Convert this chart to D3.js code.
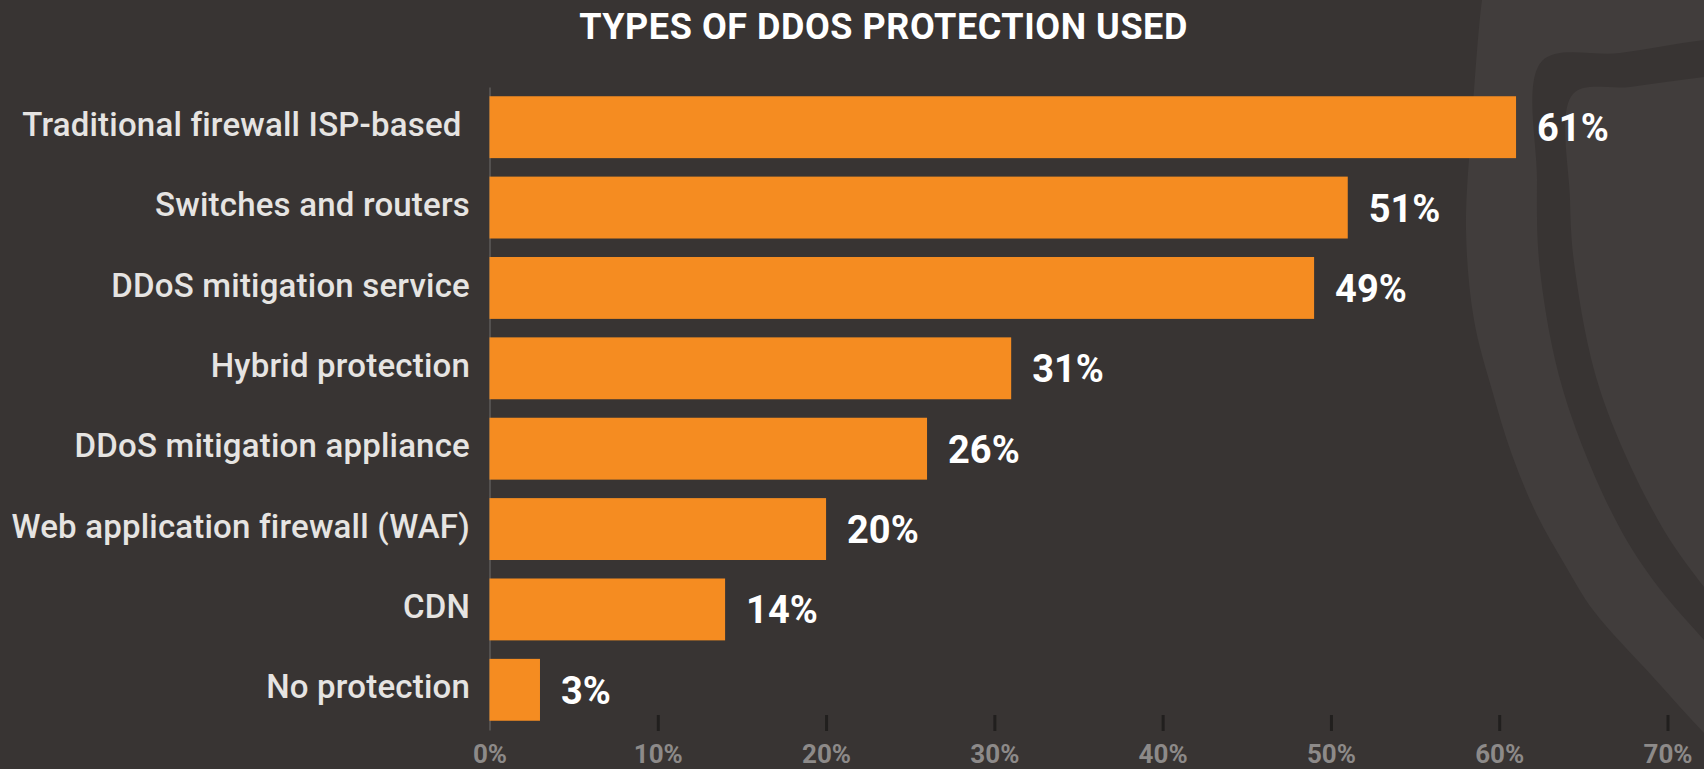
<!DOCTYPE html>
<html>
<head>
<meta charset="utf-8">
<script src="https://cdn.jsdelivr.net/npm/d3@7/dist/d3.min.js"></script>
<style>
  html, body { margin: 0; padding: 0; background: #383433; }
  svg { display: block; }
</style>
</head>
<body>
<svg id="chart" width="1704" height="769"></svg>
<script>
// Survey results: share of respondents using each type of DDoS protection
const categories = [
  "Traditional firewall ISP-based ",
  "Switches and routers",
  "DDoS mitigation service",
  "Hybrid protection",
  "DDoS mitigation appliance",
  "Web application firewall (WAF)",
  "CDN",
  "No protection"
];
const values = [61, 51, 49, 31, 26, 20, 14, 3];
const tickValues = [0, 10, 20, 30, 40, 50, 60, 70];
const titleText = "TYPES OF DDOS PROTECTION USED";

const W = 1704, H = 769;
const svg = d3.select("#chart");

const BG = "#383433", SHIELD = "#413d3c", BAR = "#f58c21";
const FONT = "Roboto, 'Liberation Sans', sans-serif";

svg.append("rect").attr("width", W).attr("height", H).attr("fill", BG);

// Decorative shield outline in the right-hand corner
const curve = d3.line().curve(d3.curveCatmullRom.alpha(0.5));
const shieldLayers = [
  { fill: SHIELD, pts: [[1800,-20],[1486,-20],[1482,0],[1472,120],[1466,230],[1474,320],[1492,390],[1512,455],[1537,515],[1565,565],[1593,610],[1653,677],[1704,733],[1745,775],[1800,800]] },
  { fill: BG, pts: [[1800,30],[1704,40],[1620,53],[1542,61],[1537,180],[1540,270],[1563,390],[1613,515],[1653,580],[1704,640],[1750,690],[1800,720]] },
  { fill: SHIELD, pts: [[1800,68],[1704,77],[1630,87],[1573,94],[1570,200],[1575,270],[1600,390],[1658,520],[1704,587],[1750,640],[1800,660]] }
];
shieldLayers.forEach(l => {
  svg.append("path").attr("d", curve(l.pts) + "L1800,800L1800,-20Z").attr("fill", l.fill);
});

// Title
svg.append("text")
  .attr("x", 883.5).attr("y", 39)
  .attr("text-anchor", "middle")
  .attr("font-family", FONT)
  .attr("font-weight", 700)
  .attr("font-size", 36)
  .attr("letter-spacing", 0.55)
  .attr("fill", "#ffffff")
  .text(titleText);

// Scales
const x = d3.scaleLinear().domain([0, 70]).range([489.5, 1667.5]);
const y = d3.scaleBand().domain(categories).range([87, 730])
  .paddingInner(0.23).paddingOuter(0.115);

// Category axis (its domain line is the vertical baseline)
const yAxis = svg.append("g")
  .attr("transform", `translate(${x(0)},0)`)
  .call(d3.axisLeft(y).tickSize(0).tickSizeOuter(0).tickPadding(19.5));
yAxis.select(".domain").attr("stroke", "#53504f").attr("stroke-width", 2);
yAxis.selectAll("text")
  .attr("font-family", FONT)
  .attr("font-weight", 500)
  .attr("font-size", 33)
  .attr("letter-spacing", 0.2)
  .attr("fill", "#e6e4e2")
  .attr("dy", "0.26em")
  .style("white-space", "pre");

// Bars
svg.append("g").selectAll("rect")
  .data(values)
  .join("rect")
  .attr("x", x(0))
  .attr("y", (d, i) => y(categories[i]))
  .attr("width", d => x(d) - x(0))
  .attr("height", y.bandwidth())
  .attr("fill", BAR);

// Value labels
svg.append("g").selectAll("text")
  .data(values)
  .join("text")
  .attr("x", d => x(d) + 21)
  .attr("y", (d, i) => y(categories[i]) + y.bandwidth() / 2 + 14)
  .attr("font-family", FONT)
  .attr("font-weight", 700)
  .attr("font-size", 38)
  .attr("fill", "#ffffff")
  .text(d => d + "%");

// Percentage axis
const xAxis = svg.append("g")
  .attr("transform", "translate(0,715)")
  .call(d3.axisBottom(x).tickValues(tickValues).tickSize(16).tickPadding(14)
    .tickFormat(d => d + "%"));
xAxis.select(".domain").remove();
xAxis.selectAll(".tick line")
  .attr("stroke", "#211f1e").attr("stroke-width", 3)
  .attr("display", d => d === 0 ? "none" : null);
xAxis.selectAll("text")
  .attr("font-family", FONT)
  .attr("font-weight", 700)
  .attr("font-size", 26)
  .attr("fill", "#8d8a89");
</script>
</body>
</html>
